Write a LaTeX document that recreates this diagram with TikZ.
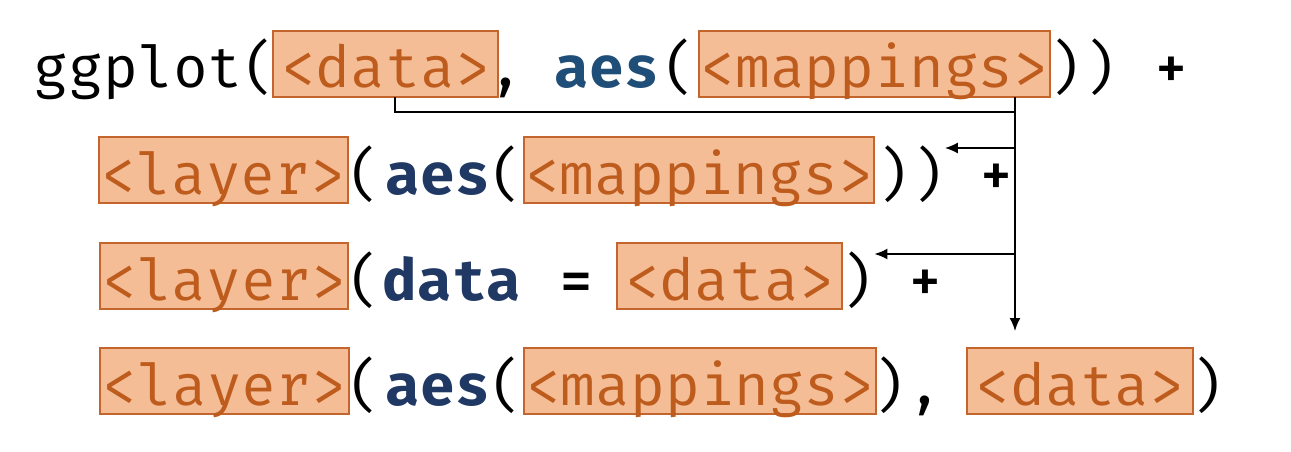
\documentclass[tikz,border=0pt]{standalone}
\usepackage{fontspec}
\newfontfamily\codefont{Fira Mono}
\IfFontExistsTF{Fira Mono Bold}
  {\newfontfamily\codebold{Fira Mono Bold}}
  {\newfontfamily\codebold{Fira Mono}[FakeBold=2.5]}
\IfFontExistsTF{Fira Mono Medium}
  {\newfontfamily\codemed{Fira Mono Medium}}
  {\newfontfamily\codemed{Fira Mono}[FakeBold=1.2]}
\usetikzlibrary{arrows.meta,calc}
\definecolor{hlfill}{RGB}{245,189,150}
\definecolor{hlborder}{RGB}{196,101,45}
\definecolor{hltext}{RGB}{190,92,30}
\definecolor{kwblueA}{RGB}{31,78,121}
\definecolor{kwblueB}{RGB}{31,56,100}
\begin{document}
\begin{tikzpicture}[x=1pt,y=-1pt,
  every node/.style={inner sep=0pt, outer sep=0pt, anchor=base,
    font=\codefont\fontsize{58}{62}\selectfont},
  word/.style={anchor=base west},
  kw/.style={font=\codebold\fontsize{58}{62}\selectfont},
  op/.style={font=\codemed\fontsize{60}{64}\selectfont},
  hl/.style={anchor=base west, draw=hlborder, fill=hlfill, text=hltext,
    line width=1.5pt, text height=57pt, text depth=9pt},
  link/.style={draw=black, line width=1.8pt},
  tip/.style={-{Latex[length=13pt,width=11pt]}}]
\useasboundingbox (0,0) rectangle (1291,452);

% line 1: ggplot(<data>, aes(<mappings>)) +
\node[word] (g1) at (34,88) {ggplot(};
\node[hl, minimum width=225pt] (d1) at (273,88) {<data>};
\node (c1) at (506,88) {,};
\node[kw, text=kwblueA] (a1) at (607,88) {aes};
\node (o1) at (680,88) {(};
\node[hl, minimum width=351pt] (m1) at (699,88) {<mappings>};
\node (p1) at (1082,88) {))};
\node[op] (plus1) at (1171,88) {+};

% line 2: <layer>(aes(<mappings>)) +
\node[hl, minimum width=249pt] (l2) at (99,194) {<layer>};
\node (o2) at (365,194) {(};
\node[kw, text=kwblueB] (a2) at (438,194) {aes};
\node (o2b) at (507,194) {(};
\node[hl, minimum width=350pt] (m2) at (524,194) {<mappings>};
\node (p2) at (910,194) {))};
\node[op] (plus2) at (996,194) {+};

% line 3: <layer>(data = <data>) +
\node[hl, minimum width=248pt] (l3) at (100,300) {<layer>};
\node (o3) at (365,300) {(};
\node[kw, text=kwblueB] (k3) at (452,300) {data};
\node[op] (eq3) at (576,300) {=};
\node[hl, minimum width=225pt] (d3) at (617,300) {<data>};
\node (p3) at (857,300) {)};
\node[op] (plus3) at (925,300) {+};

% line 4: <layer>(aes(<mappings>), <data>)
\node[hl, minimum width=249pt] (l4) at (100,405) {<layer>};
\node (o4) at (365,405) {(};
\node[kw, text=kwblueB] (a4) at (438,405) {aes};
\node (o4b) at (507,405) {(};
\node[hl, minimum width=352pt] (m4) at (524,405) {<mappings>};
\node (p4) at (889,405) {)};
\node (c4) at (925,405) {,};
\node[hl, minimum width=226pt] (d4) at (967,405) {<data>};
\node (p4b) at (1207,405) {)};

% connectors: data and mappings passed down to the layers
\coordinate (dstem) at ($(d1.south west)+(122,0)$);
\coordinate (trunk) at ($(m1.south east)+(-35,0)$);
\coordinate (join) at (trunk |- 0,112);
\coordinate (tap2) at (trunk |- 0,148);
\coordinate (tap3) at (trunk |- 0,254);
\coordinate (end4) at (trunk |- 0,331);
\draw[link] (dstem) -- (dstem |- join) -- (join);
\draw[link, tip] (trunk) -- (end4);
\draw[link, tip] (tap2) -- (tap2 -| p2.east);
\draw[link, tip] (tap3) -- (tap3 -| p3.east);
\end{tikzpicture}
\end{document}
